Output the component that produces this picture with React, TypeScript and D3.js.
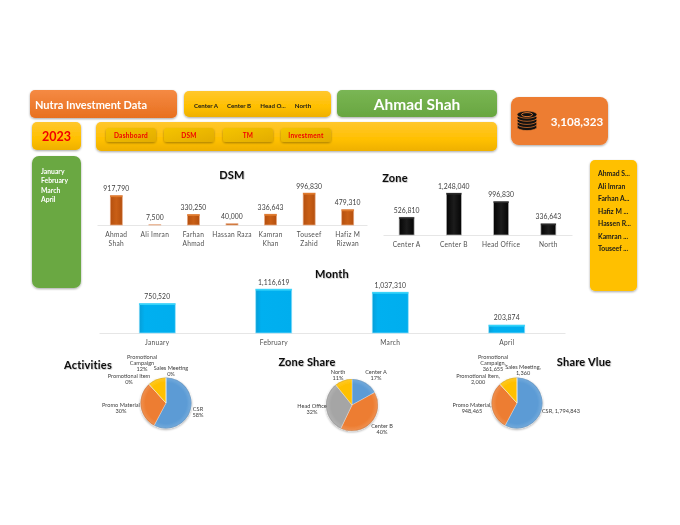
import React, { useEffect, useRef } from 'react';
import * as d3 from 'd3';

const dsmNames = ['Ahmad Shah', 'Ali Imran', 'Farhan Ahmad', 'Hassan Raza', 'Kamran Khan', 'Touseef Zahid', 'Hafiz M Rizwan'];
const dsmOneLine = ['Ali Imran', 'Hassan Raza'];
const dsmValues = [917790, 7500, 330250, 40000, 336643, 996830, 479310];
const zoneNames = ['Center A', 'Center B', 'Head Office', 'North'];
const zoneValues = [526810, 1248040, 996830, 336643];
const zoneShare = ['17%', '40%', '32%', '11%'];
const monthNames = ['January', 'February', 'March', 'April'];
const monthValues = [750520, 1116619, 1037310, 203874];
const activityNames = ['CSR', 'Promo Material', 'Promotional Item', 'Promotional Campaign', 'Sales Meeting'];
const activityValues = [1794843, 948465, 2000, 361655, 1360];
const activityShare = ['58%', '30%', '0%', '12%', '0%'];
const slicerZones = ['Center A', 'Center B', 'Head O...', 'North'];
const navItems = ['Dashboard', 'DSM', 'TM', 'Investment'];
const slicerNames = ['Ahmad S...', 'Ali Imran', 'Farhan A...', 'Hafiz M ...', 'Hassen R...', 'Kamran ...', 'Touseef ...'];

const FONT = 'Lato, "Open Sans", sans-serif';
const fmt = d3.format(',');

function BottomAxis({ scale, y, wrap }: any) {
  const ref = useRef<SVGGElement>(null);
  useEffect(() => {
    const g = d3.select(ref.current);
    g.call(d3.axisBottom(scale).tickSize(0).tickPadding(0) as any);
    g.select('.domain').attr('stroke', '#e6e6e6').attr('stroke-width', 1);
    g.selectAll('text')
      .attr('font-family', FONT)
      .attr('font-size', 6.6)
      .attr('fill', '#505050')
      .attr('letter-spacing', 0.3)
      .attr('y', 0)
      .attr('dy', 0)
      .each(function (d: any) {
        const t = d3.select(this as any);
        t.text(null);
        // long names break before the last word, like the excel axis
        const cut = d.lastIndexOf(' ');
        const parts = wrap && !dsmOneLine.includes(d) ? [d.slice(0, cut), d.slice(cut + 1)] : [d];
        parts.forEach((p: string, i: number) => {
          t.append('tspan').attr('x', 0).attr('y', 12 + i * 9).text(p);
        });
      });
  }, []);
  return <g ref={ref} transform={`translate(0,${y})`} />;
}

function Bars({ names, values, x0, x1, base, top, barW, fill, edge, strip, wrap }: any) {
  const x = d3.scaleBand().domain(names).range([x0, x1]);
  const y = d3.scaleLinear().domain([0, d3.max(values) as number]).range([base, top]);
  return (
    <g>
      <BottomAxis scale={x} y={base} wrap={wrap} />
      {values.map((v: number, i: number) => {
        const cx = (x(names[i]) as number) + x.bandwidth() / 2;
        const h = base - y(v);
        return (
          <g key={names[i]}>
            <rect x={cx - barW / 2} y={y(v)} width={barW} height={h} fill={`url(#${fill})`} stroke={edge} strokeWidth={0.7} />
            {h > 2 && <rect x={cx - barW / 2} y={y(v)} width={barW} height={1.6} fill={strip} />}
            <text x={cx} y={y(v) - 4.5} textAnchor="middle" fontFamily={FONT} fontSize={6.8} letterSpacing={0.1} fill="#404040">{fmt(v)}</text>
          </g>
        );
      })}
    </g>
  );
}

function Pie({ cx, cy, r, values, colors, labels }: any) {
  const pie = d3.pie<number>().sort(null)(values);
  const arc = d3.arc<any>().innerRadius(0).outerRadius(r);
  return (
    <g>
      <g transform={`translate(${cx},${cy})`} filter="url(#soft)">
        {pie.map((d, i) => (
          <path key={i} d={arc(d) as string} fill={colors[i]} stroke="#ffffff" strokeWidth={0.3} />
        ))}
        <circle r={r} fill="url(#pieShade)" />
      </g>
      {labels.map((l: any, i: number) => (
        <text key={i} x={l.x} textAnchor="middle" fontFamily={FONT} fontSize={5.6} fill="#404040">
          {l.lines.map((s: string, j: number) => (
            <tspan key={j} x={l.x} y={l.y + j * 6.4}>{s}</tspan>
          ))}
        </text>
      ))}
    </g>
  );
}

function Panel({ x, y, w, h, r = 5, fill }: any) {
  return <rect x={x} y={y} width={w} height={h} rx={r} ry={r} fill={fill} filter="url(#shadow)" />;
}

function Label({ x, y, size = 6.5, color = '#1a1a1a', anchor = 'start', weight = 700, spacing = 0, children }: any) {
  return (
    <text x={x} y={y} fontFamily={FONT} fontSize={size} fontWeight={weight} fill={color} textAnchor={anchor} letterSpacing={spacing} dominantBaseline="central">
      {children}
    </text>
  );
}

function Title({ x, y, children }: any) {
  return (
    <text x={x} y={y} fontFamily={FONT} fontSize={11} fontWeight={700} letterSpacing={0.2} fill="#111" textAnchor="middle" dominantBaseline="central" filter="url(#textShadow)">
      {children}
    </text>
  );
}

function Coins() {
  const layers = d3.range(5);
  return (
    <g>
      {layers.map((i) => (
        <ellipse key={i} cx={527} cy={127 - i * 3.1} rx={10} ry={3.6} fill="#111" stroke="#ed7d31" strokeWidth={0.7} />
      ))}
      <ellipse cx={527} cy={114.6} rx={5.5} ry={2} fill="none" stroke="#ed7d31" strokeWidth={0.9} />
    </g>
  );
}

export default function App() {
  const pieA = ['#5b9bd5', '#ed7d31', '#a5a5a5', '#ffc000', '#4472c4'];
  const pieB = ['#5b9bd5', '#ed7d31', '#a5a5a5', '#ffc000'];
  const buttonX = [106, 164, 223, 281];
  const slicerX = [206, 239, 273, 303];

  return (
    <svg width={680} height={525} style={{ position: 'absolute', left: 0, top: 0, background: '#fff', filter: 'blur(0.3px)' }}>
      <defs>
        <filter id="shadow" x="-10%" y="-20%" width="120%" height="150%">
          <feDropShadow dx={0} dy={1} stdDeviation={0.8} floodColor="#000" floodOpacity={0.35} />
        </filter>
        <filter id="soft" x="-10%" y="-10%" width="120%" height="125%">
          <feDropShadow dx={0} dy={1} stdDeviation={1} floodColor="#000" floodOpacity={0.35} />
        </filter>
        <filter id="textShadow" x="-10%" y="-20%" width="120%" height="150%">
          <feDropShadow dx={0.6} dy={0.6} stdDeviation={0.5} floodColor="#000" floodOpacity={0.3} />
        </filter>
        <linearGradient id="orangeV" x1="0" y1="0" x2="0" y2="1">
          <stop offset="0" stopColor="#f58a44" />
          <stop offset="1" stopColor="#e8701f" />
        </linearGradient>
        <linearGradient id="yellowV" x1="0" y1="0" x2="0" y2="1">
          <stop offset="0" stopColor="#ffc72e" />
          <stop offset="0.6" stopColor="#ffc000" />
          <stop offset="1" stopColor="#eeb000" />
        </linearGradient>
        <linearGradient id="greenV" x1="0" y1="0" x2="0" y2="1">
          <stop offset="0" stopColor="#7ab655" />
          <stop offset="1" stopColor="#68a63f" />
        </linearGradient>
        <linearGradient id="btn" x1="0" y1="0" x2="1" y2="1">
          <stop offset="0" stopColor="#f5c400" />
          <stop offset="1" stopColor="#e2ac00" />
        </linearGradient>
        <linearGradient id="barOrange" x1="0" y1="0" x2="1" y2="0">
          <stop offset="0" stopColor="#b5500f" />
          <stop offset="0.5" stopColor="#c95f16" />
          <stop offset="1" stopColor="#b5500f" />
        </linearGradient>
        <linearGradient id="barBlack" x1="0" y1="0" x2="1" y2="0">
          <stop offset="0" stopColor="#050505" />
          <stop offset="0.5" stopColor="#1c1c1c" />
          <stop offset="1" stopColor="#050505" />
        </linearGradient>
        <linearGradient id="barBlue" x1="0" y1="0" x2="1" y2="0">
          <stop offset="0" stopColor="#069ed8" />
          <stop offset="0.15" stopColor="#00b0f0" />
          <stop offset="1" stopColor="#00aeee" />
        </linearGradient>
        <radialGradient id="pieShade" cx="0.5" cy="0.5" r="0.5">
          <stop offset="0.8" stopColor="#fff" stopOpacity={0} />
          <stop offset="0.95" stopColor="#fff" stopOpacity={0.12} />
          <stop offset="1" stopColor="#000" stopOpacity={0.18} />
        </radialGradient>
      </defs>

      {/* header panels */}
      <Panel x={30} y={90} w={147} h={28} fill="url(#orangeV)" />
      <Label x={35} y={104} size={11} color="#fff">Nutra Investment Data</Label>
      <Panel x={184} y={91} w={147} h={26} fill="url(#yellowV)" />
      {slicerZones.map((z, i) => <Label key={z} x={slicerX[i]} y={105.7} anchor="middle" size={6.2}>{z}</Label>)}
      <Panel x={337} y={90} w={160} h={27} fill="url(#greenV)" />
      <Label x={417} y={104} size={15.5} color="#fff" anchor="middle">Ahmad Shah</Label>
      <Panel x={511} y={97} w={97} h={48} r={8} fill="#ed7d31" />
      <Coins />
      <Label x={577} y={121} size={11.6} color="#fff" anchor="middle">3,108,323</Label>

      <Panel x={32} y={122} w={49} h={28} fill="url(#yellowV)" />
      <Label x={56.5} y={136} size={12.5} color="#f00000" anchor="middle">2023</Label>
      <Panel x={96} y={122} w={401} h={29} fill="url(#yellowV)" />
      {navItems.map((n, i) => (
        <g key={n}>
          <Panel x={buttonX[i]} y={128} w={50} h={14} r={3} fill="url(#btn)" />
          <Label x={buttonX[i] + 25} y={135} anchor="middle" color="#f00000" size={6.5} spacing={0.3}>{n}</Label>
        </g>
      ))}

      {/* slicers */}
      <Panel x={32} y={156} w={49} h={132} r={7} fill="#6aa842" />
      {monthNames.map((m, i) => <Label key={m} x={41} y={171 + i * 9.4} color="#fff" size={6.8}>{m}</Label>)}
      <Panel x={590} y={160} w={47} h={131} r={5} fill="#ffc000" />
      {slicerNames.map((n, i) => <Label key={n} x={598} y={173 + i * 12.5} size={6.8}>{n}</Label>)}

      {/* bar charts */}
      <Title x={232} y={174}>DSM</Title>
      <Bars names={dsmNames} values={dsmValues} x0={97} x1={367} base={225} top={193} barW={12} fill="barOrange" edge="#e8a880" strip="#e07a2c" wrap />
      <Title x={395} y={177}>Zone</Title>
      <Bars names={zoneNames} values={zoneValues} x0={383} x1={572} base={235} top={193} barW={15} fill="barBlack" edge="#b5b5b5" strip="#2a2a2a" />
      <Title x={332} y={273.5}>Month</Title>
      <Bars names={monthNames} values={monthValues} x0={99} x1={565} base={333} top={289} barW={36} fill="barBlue" edge="#8fe0fb" strip="#35d4fa" />

      {/* pies, labels nudged a little so the crowded ones stay readable */}
      <Title x={88} y={364}>Activities</Title>
      <Pie cx={166} cy={403} r={25.5} values={activityValues} colors={pieA} labels={[
        { x: 198, y: 411, lines: [activityNames[0], activityShare[0]] },
        { x: 121, y: 407, lines: [activityNames[1], activityShare[1]] },
        { x: 129, y: 378, lines: [activityNames[2], activityShare[2]] },
        { x: 142, y: 358.5, lines: ['Promotional', 'Campaign', activityShare[3]] },
        { x: 171, y: 370, lines: [activityNames[4], activityShare[4]] },
      ]} />
      <Title x={307} y={361.5}>Zone Share</Title>
      <Pie cx={352} cy={405} r={26} values={zoneValues} colors={pieB} labels={[
        { x: 376, y: 374, lines: [zoneNames[0], zoneShare[0]] },
        { x: 382, y: 428, lines: [zoneNames[1], zoneShare[1]] },
        { x: 312, y: 408, lines: [zoneNames[2], zoneShare[2]] },
        { x: 338, y: 373.5, lines: [zoneNames[3], zoneShare[3]] },
      ]} />
      <Title x={584} y={361}>Share Vlue</Title>
      <Pie cx={517} cy={403} r={25.5} values={activityValues} colors={pieA} labels={[
        { x: 561, y: 413, lines: [activityNames[0] + ',  ' + fmt(activityValues[0])] },
        { x: 472, y: 407, lines: [activityNames[1] + ',', fmt(activityValues[1])] },
        { x: 478, y: 378, lines: [activityNames[2] + ',', fmt(activityValues[2])] },
        { x: 493, y: 358.5, lines: ['Promotional', 'Campaign,', fmt(activityValues[3])] },
        { x: 523, y: 369, lines: [activityNames[4] + ',', fmt(activityValues[4])] },
      ]} />
    </svg>
  );
}
